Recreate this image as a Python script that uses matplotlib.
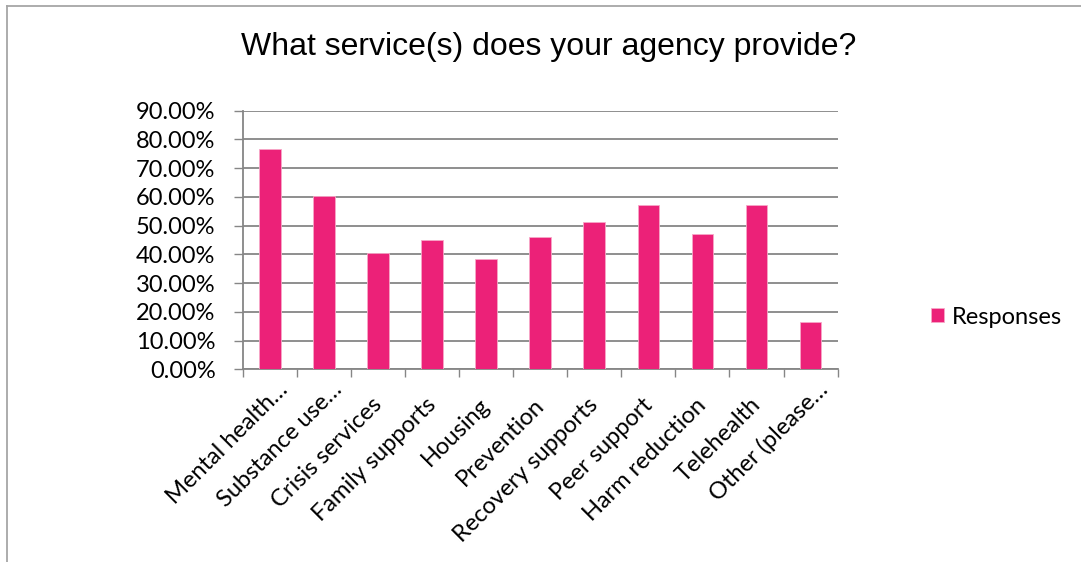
import matplotlib.pyplot as plt
from matplotlib.lines import Line2D
from matplotlib.ticker import FuncFormatter

# Survey results: share of agencies offering each service
categories = ["Mental health…", "Substance use…", "Crisis services", "Family supports",
              "Housing", "Prevention", "Recovery supports", "Peer support",
              "Harm reduction", "Telehealth", "Other (please…"]
responses = [76.8, 60.3, 40.6, 44.9, 38.3, 46.1, 51.4, 57.1, 47.1, 57.1, 16.4]
y_ticks = [0, 10, 20, 30, 40, 50, 60, 70, 80, 90]

bar_color = "#EC2178"
grid_color = "#868686"
label_font = "Lato"
label_size = 17

fig = plt.figure(figsize=(10.81, 5.62), dpi=100)
ax = fig.add_axes([0.2245, 0.3429, 0.5504, 0.4601])

x = list(range(len(categories)))
ax.bar(x, responses, width=0.4, color=bar_color, edgecolor="#F7A8C8",
       linewidth=0.6, label="Responses", zorder=3)

ax.set_xlim(-0.5, len(categories) - 0.5)
ax.set_ylim(0, 90)
ax.set_yticks(y_ticks)
ax.yaxis.set_major_formatter(FuncFormatter(lambda v, p: f"{v:.2f}%"))
ax.grid(axis="y", color=grid_color, linewidth=1.3, zorder=0)

for side in ["top", "right"]:
    ax.spines[side].set_visible(False)
for side in ["left", "bottom"]:
    ax.spines[side].set_color(grid_color)
    ax.spines[side].set_linewidth(1.3)

ax.tick_params(axis="y", length=6.5, width=1.0, color=grid_color, pad=13,
               labelsize=label_size)
for lbl in ax.get_yticklabels():
    lbl.set_fontfamily(label_font)
    lbl.set_color("#000000")

# category boundary ticks below the axis, labels at bar centres
ax.set_xticks([i - 0.5 for i in range(len(categories) + 1)])
ax.set_xticklabels([])
ax.tick_params(axis="x", length=6, width=1.0, color=grid_color)
for i, name in enumerate(categories):
    dx, dy = 5, -37
    if name.endswith("…"):
        # truncated names run a little further up the diagonal
        dx, dy = dx + 14, dy + 15
    ax.annotate(name, xy=(i, 0), xycoords=("data", "axes fraction"),
                xytext=(dx, dy), textcoords="offset pixels",
                rotation=45, rotation_mode="anchor", ha="right", va="baseline",
                fontsize=label_size, fontfamily=label_font, color="#000000")

fig.text(0.508, 0.916, "What service(s) does your agency provide?",
         ha="center", va="center", fontsize=23, fontfamily="Liberation Sans")

handles, labels = ax.get_legend_handles_labels()
fig.legend(handles, labels, loc="center left",
           bbox_to_anchor=(931 / 1081, 1 - 317 / 562),
           frameon=False, prop={"family": label_font, "size": label_size},
           borderpad=0, borderaxespad=0,
           handlelength=0.55, handleheight=0.55, handletextpad=0.35)

# outer chart frame (top and left edges fall inside the image)
fig.add_artist(Line2D([7 / 1081, 1.0], [1 - 6 / 562, 1 - 6 / 562],
                      transform=fig.transFigure, color="#A6A6A6", linewidth=1.3))
fig.add_artist(Line2D([7 / 1081, 7 / 1081], [0.0, 1 - 6 / 562],
                      transform=fig.transFigure, color="#A6A6A6", linewidth=1.3))

fig.savefig("out.png", dpi=100)
